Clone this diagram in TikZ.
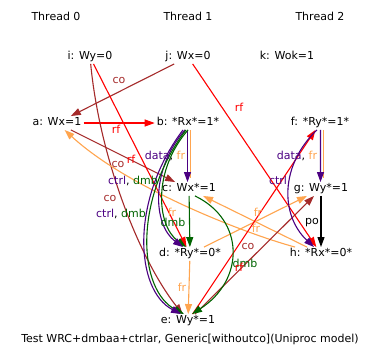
\documentclass[tikz,border=0pt]{standalone}
\usepackage{fontspec}
\setmainfont{DejaVu Sans}
\usetikzlibrary{arrows.meta,calc}
\definecolor{cbrown}{HTML}{A52A2A}
\definecolor{cred}{HTML}{FF0000}
\definecolor{cpurple}{HTML}{4B0082}
\definecolor{cgreen}{HTML}{006400}
\definecolor{corange}{HTML}{FFA54F}
\begin{document}
\begin{tikzpicture}[x=1bp,y=-1bp,font=\fontsize{11bp}{13bp}\selectfont,
  ev/.style={inner xsep=2bp,inner ysep=1.5bp,text height=8bp,text depth=2.5bp},
  lbl/.style={inner sep=0pt},
  edge/.style={line width=1.1bp,-{Triangle[length=10bp,width=7bp]}},
  plain/.style={line width=1.1bp}]
\fill[white] (0,0) rectangle (382,361);
\useasboundingbox (0,0) rectangle (382,361);
% thread titles
\node[ev] (th0) at (56,18) {Thread 0};
\node[ev] (th1) at (188,18) {Thread 1};
\node[ev] (th2) at (320,18) {Thread 2};
% events
\node[ev] (i) at (90,57) {i: Wy=0};
\node[ev] (j) at (188,57) {j: Wx=0};
\node[ev] (k) at (287,57) {k: Wok=1};
\node[ev] (a) at (57,123) {a: Wx=1};
\node[ev] (b) at (188,123) {b: *Rx*=1*};
\node[ev] (f) at (320,123) {f: *Ry*=1*};
\node[ev] (c) at (189,189) {c: Wx*=1};
\node[ev] (g) at (321,189) {g: Wy*=1};
\node[ev] (d) at (190,254) {d: *Ry*=0*};
\node[ev] (h) at (321,254) {h: *Rx*=0*};
\node[ev] (e) at (188,321) {e: Wy*=1};
\node (cap) at (190,339) {Test WRC+dmbaa+ctrlar, Generic[withoutco](Uniproc model)};
% edges
\draw[edge,cbrown] (j) -- (a);
\draw[edge,cred] (j) -- (h);
\draw[edge,cred] (a) -- (b);
\draw[edge,cbrown] (a) -- (c);
\draw[edge,cred] (i) -- (d);
\draw[edge,cbrown] (i) .. controls (100,160) and (140,260) .. (e);
\draw[edge,corange] (h) .. controls (250,235) and (130,190) .. (a);
\draw[edge,corange] (h) -- (c);
\draw[edge,corange] (d) -- (g);
\draw[edge,corange] (d) -- (e);
\draw[edge,cred] (e) -- (f);
\draw[edge,cbrown] (e) -- (g);
\draw[edge,cgreen] (c) -- (d);
\draw[edge,cgreen] ($(c.south)+(6,0)$) .. controls (245,220) and (245,280) .. ($(e.north)+(4,0)$);
% b -> c data, fr
\draw[plain,corange,shorten >=4bp] ($(b.south)+(2.5,0)$) -- ($(c.north)+(1.5,0)$);
\draw[edge,cpurple] ($(b.south)+(-0.5,0)$) -- ($(c.north)+(-1.5,0)$);
% b -> d ctrl, dmb
\draw[edge,cgreen] ($(b.south)+(0,0)$) .. controls (153,170) and (156,225) .. ($(d.north)+(-4,0)$);
\draw[edge,cpurple] ($(b.south)+(-3,0)$) .. controls (150,170) and (153,225) .. ($(d.north)+(-7,0)$);
% b -> e ctrl, dmb
\draw[edge,cgreen] ($(b.south)+(-2,0)$) .. controls (133,200) and (138,290) .. ($(e.north)+(-4,0)$);
\draw[edge,cpurple] ($(b.south)+(-5,0)$) .. controls (130,200) and (135,290) .. ($(e.north)+(-7,0)$);
% f -> g data, fr
\draw[plain,corange,shorten >=4bp] ($(f.south)+(3.5,0)$) -- ($(g.north)+(2.5,0)$);
\draw[edge,cpurple] ($(f.south)+(0.5,0)$) -- ($(g.north)+(-0.5,0)$);
% f -> h ctrl
\draw[edge,cpurple] ($(f.south)+(-3,0)$) .. controls (280,165) and (280,215) .. ($(h.north)+(-7,0)$);
% g -> h po
\draw[edge,black] (g) -- (h);
% labels
\node[lbl,text=cbrown] (l1) at (119,80) {co};
\node[lbl,text=cred] (l2) at (239,107) {rf};
\node[lbl,text=cred] (l3) at (116,129) {rf};
\node[lbl] (l4) at (165,156) {\textcolor{cpurple}{data}, \textcolor{corange}{fr}};
\node[lbl] (l5) at (297,156) {\textcolor{cpurple}{data}, \textcolor{corange}{fr}};
\node[lbl,text=cbrown] (l6) at (118,164) {co};
\node[lbl,text=cred] (l7) at (131,159) {rf};
\node[lbl] (l8) at (133,181) {\textcolor{cpurple}{ctrl}, \textcolor{cgreen}{dmb}};
\node[lbl,text=cbrown] (l9) at (110,198) {co};
\node[lbl] (l10) at (121,214) {\textcolor{cpurple}{ctrl}, \textcolor{cgreen}{dmb}};
\node[lbl,text=corange] (l11) at (172,212) {fr};
\node[lbl,text=cgreen] (l12) at (173,222) {dmb};
\node[lbl,text=corange] (l13) at (182,287) {fr};
\node[lbl,text=corange] (l14) at (258,212) {fr};
\node[lbl,text=corange] (l15) at (256,228) {fr};
\node[lbl,text=cbrown] (l16) at (248,246) {co};
\node[lbl,text=cgreen] (l17) at (245,263) {dmb};
\node[lbl,text=cred] (l18) at (239,267) {rf};
\node[lbl,text=cpurple] (l19) at (278,180) {ctrl};
\node[lbl] (l20) at (312,223) {po};
\end{tikzpicture}
\end{document}
